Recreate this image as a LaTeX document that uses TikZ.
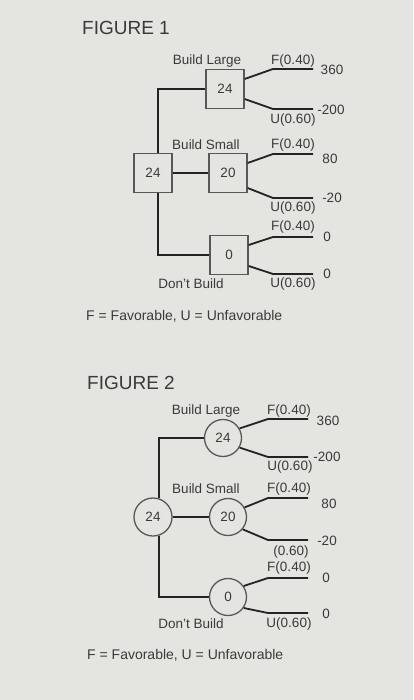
\documentclass[tikz,border=0pt]{standalone}
\usepackage{fontspec}
\setmainfont{Liberation Sans}
\usetikzlibrary{calc}
\definecolor{bg}{HTML}{E4E4E0}
\definecolor{ink}{HTML}{3A3A3A}
\definecolor{wirec}{HTML}{232323}
\begin{document}
\begin{tikzpicture}[x=1pt,y=-1pt,
  txt/.style={text=ink,font=\fontsize{13.5}{15}\selectfont,inner sep=0pt},
  ttl/.style={text=ink,font=\fontsize{19}{21}\selectfont,inner sep=0pt,anchor=west},
  leg/.style={text=ink,font=\fontsize{14}{16}\selectfont,inner sep=0pt,anchor=west},
  dbox/.style={draw=ink!85,line width=1.3pt,minimum width=38pt,minimum height=39pt,inner sep=0pt,text=ink,font=\fontsize{13.5}{15}\selectfont},
  cnode/.style={circle,draw=ink!85,line width=1.3pt,minimum size=37pt,inner sep=0pt,text=ink,font=\fontsize{13.5}{15}\selectfont},
  wire/.style={draw=wirec,line width=1.8pt}]
\useasboundingbox (0,0) rectangle (413,700);
\fill[bg] (0,0) rectangle (413,700);

% ---------------- FIGURE 1 ----------------
\node[ttl] (t1) at (82,28) {FIGURE 1};
\node[dbox] (bl) at (225,89) {24};
\node[dbox] (bs) at (228,173) {20};
\node[dbox] (db) at (229,255) {0};
\node[dbox] (r1) at (153,173) {24};

\coordinate (a1) at (273,69);  \coordinate (a2) at (313,69);
\coordinate (a3) at (273,109); \coordinate (a4) at (313,109);
\coordinate (b1) at (273,154); \coordinate (b2) at (313,154);
\coordinate (b3) at (273,198); \coordinate (b4) at (313,198);
\coordinate (d1) at (273,237); \coordinate (d2) at (313,237);
\coordinate (d3) at (273,274); \coordinate (d4) at (313,274);

\draw[wire] ([xshift=5pt]r1.north) |- (bl.west);
\draw[wire] (r1.east) -- (bs.west);
\draw[wire] ([xshift=5pt]r1.south) |- (db.west);
\draw[wire] ($(bl.east)+(0,-10)$) -- (a1) -- (a2);
\draw[wire] ($(bl.east)+(0,10)$) -- (a3) -- (a4);
\draw[wire] ($(bs.east)+(0,-10)$) -- (b1) -- (b2);
\draw[wire] ($(bs.east)+(0,15)$) -- (b3) -- (b4);
\draw[wire] ($(db.east)+(0,-10)$) -- (d1) -- (d2);
\draw[wire] ($(db.east)+(0,11)$) -- (d3) -- (d4);

\node[txt] (l1) at (207,61) {Build Large};
\node[txt] (l2) at (293,61) {F(0.40)};
\node[txt] (l3) at (332,70) {360};
\node[txt] (l4) at (331,110) {-200};
\node[txt] (l5) at (293,120) {U(0.60)};
\node[txt] (l6) at (206,145) {Build Small};
\node[txt] (l7) at (293,145) {F(0.40)};
\node[txt] (l8) at (330,159) {80};
\node[txt] (l9) at (332,198) {-20};
\node[txt] (l10) at (293,208) {U(0.60)};
\node[txt] (l11) at (293,227) {F(0.40)};
\node[txt] (l12) at (327,237) {0};
\node[txt] (l13) at (327,274) {0};
\node[txt] (l14) at (191,284) {Don't Build};
\node[txt] (l15) at (293,284) {U(0.60)};
\node[leg] (lg1) at (86,316) {F = Favorable, U = Unfavorable};

% ---------------- FIGURE 2 ----------------
\node[ttl] (t2) at (87,383) {FIGURE 2};
\node[cnode] (c1) at (223,438) {24};
\node[cnode] (c2) at (228,517) {20};
\node[cnode] (c3) at (228,597) {0};
\node[cnode,minimum size=38pt] (r2) at (153,517) {24};

\coordinate (e1) at (268,419); \coordinate (e2) at (308,419);
\coordinate (e3) at (268,457); \coordinate (e4) at (308,457);
\coordinate (f1) at (268,498); \coordinate (f2) at (308,498);
\coordinate (f3) at (268,540); \coordinate (f4) at (308,540);
\coordinate (g1) at (268,578); \coordinate (g2) at (308,578);
\coordinate (g3) at (268,613); \coordinate (g4) at (308,613);

\draw[wire] (r2.72) |- (c1.west);
\draw[wire] (r2.east) -- (c2.west);
\draw[wire] (r2.-72) |- (c3.west);
\draw[wire] (c1.30) -- (e1) -- (e2);
\draw[wire] (c1.-30) -- (e3) -- (e4);
\draw[wire] (c2.30) -- (f1) -- (f2);
\draw[wire] (c2.-40) -- (f3) -- (f4);
\draw[wire] (c3.35) -- (g1) -- (g2);
\draw[wire] (c3.-35) -- (g3) -- (g4);

\node[txt] (m1) at (206,411) {Build Large};
\node[txt] (m2) at (289,411) {F(0.40)};
\node[txt] (m3) at (328,421) {360};
\node[txt] (m4) at (327,457) {-200};
\node[txt] (m5) at (290,467) {U(0.60)};
\node[txt] (m6) at (206,489) {Build Small};
\node[txt] (m7) at (289,489) {F(0.40)};
\node[txt] (m8) at (329,504) {80};
\node[txt] (m9) at (327,541) {-20};
\node[txt] (m10) at (291,552) {(0.60)};
\node[txt] (m11) at (289,568) {F(0.40)};
\node[txt] (m12) at (326,578) {0};
\node[txt] (m13) at (326,614) {0};
\node[txt] (m14) at (191,624) {Don't Build};
\node[txt] (m15) at (289,624) {U(0.60)};
\node[leg] (lg2) at (87,655) {F = Favorable, U = Unfavorable};
\end{tikzpicture}
\end{document}
